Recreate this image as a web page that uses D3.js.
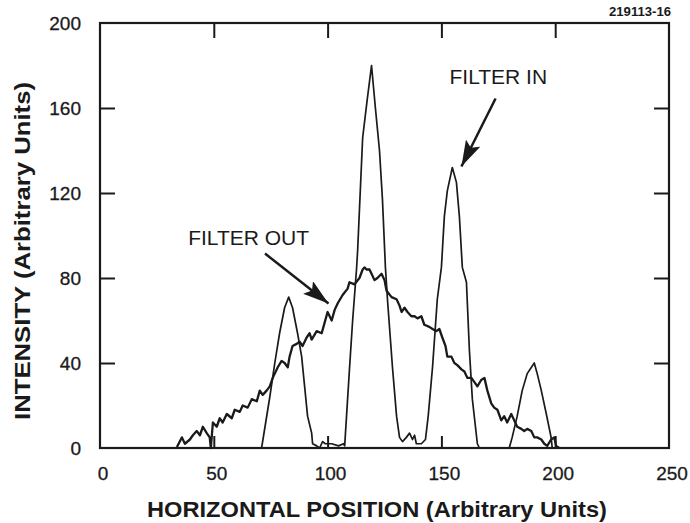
<!DOCTYPE html>
<html>
<head>
<meta charset="utf-8">
<script src="https://cdn.jsdelivr.net/npm/d3@7"></script>
<style>
  html, body { margin: 0; padding: 0; background: #fff; }
  svg { display: block; }
  text { font-family: "Liberation Sans", Arial, Helvetica, sans-serif; fill: #1a1a1a; }
</style>
</head>
<body>
<svg id="chart" width="690" height="523"></svg>
<script>
// ---- data ----
const xTicks = [0, 50, 100, 150, 200, 250];
const yTicks = [0, 40, 80, 120, 160, 200];
const xTitle = "HORIZONTAL POSITION (Arbitrary Units)";
const yTitle = "INTENSITY (Arbitrary Units)";
const figureId = "219113-16";

const filterInPos = [60, 71, 74.6, 76.8, 78.9, 81.1, 82.9, 84.6, 86.8, 88.6, 89.9, 91.2, 93.0, 93.4, 95.2, 96.5, 97.8, 99, 101.8, 104.8, 107.0, 107.5,
  109.6, 111.0, 112.7, 113.2, 115.4, 117.3, 119.3, 121, 122.8, 124.1, 125.4, 126.3, 128.5, 130.3, 131.6, 132.9, 134.6, 136, 137.3, 138.2, 139, 141.2, 143,
  144.2, 146.1, 148.2, 150.0, 151.3, 152.6, 154.8, 156.6, 157.9, 159.2, 161.0, 162.3, 163.6, 165.8, 166.7, 179.8,
  181.1, 183.3, 185.5, 187.7, 190.8, 192.1, 193.9, 196.1, 198.2, 198.7, 205];
const filterInVal = [0, 0, 24, 40, 54, 66, 71, 66, 54, 43, 29, 15, 7, 2, 1, 0, 3, 2, 2, 1, 2, 1,
  37, 60, 84, 93, 146, 163, 180, 160, 140, 117, 85, 70, 38, 15, 5, 3, 5, 7, 4, 6, 2, 2, 4,
  15, 38, 70, 85, 109, 121, 132, 125, 109, 85, 78, 46, 23, 2, 0, 0,
  5, 15, 27, 35, 40, 35, 27, 16, 5, 0, 0];

const filterOutPos = [33.8, 36.0, 37.3, 39.5, 40.8, 42.5, 43.9, 45.2, 46.9, 48.2, 48.7, 49.6, 51.3, 52.6, 53.9, 55.7, 57.9, 59.2, 61.4, 62.7, 64.9,
  66.7, 68.9, 70.2, 71.5, 73.2, 74.6, 75.9, 78.1, 79.8, 81.1, 82.5, 83.3, 84.6, 86.4, 87.7, 89.0, 90.8, 92.1, 93.0, 95.2, 97.4, 98.7,
  100.0, 101.8, 103.1, 104.4, 106.6, 108.8, 109.6, 111.8, 114.0, 115.4, 116.2, 117.1, 118.4, 119.3, 120.6, 121.9, 123.7, 125.0, 125.9,
  128.1, 130.3, 131.6, 132.5, 133.8, 135.1, 136.8, 138.2, 139.5, 141.2, 142.5, 144.7, 146.1, 147.8, 149.1, 150.4, 151.8, 152.6, 154.4,
  155.7, 157.0, 158.8, 160.1, 161.4, 163.2, 164.5, 165.8, 167.5, 168.9, 170.2, 171.9, 173.2, 174.6, 176.3, 177.6, 178.9, 180.7, 182.0,
  183.3, 185.1, 186.4, 187.7, 189.5, 190.8, 192.1, 193.9, 195.2, 196.5, 198.2, 199.6, 200.4, 201.8];
const filterOutVal = [0.5, 5, 2, 4, 6, 8, 6, 10, 7, 5, 0, 12, 10, 14, 12, 16, 14, 18, 17, 20, 19,
  23, 22, 27, 25, 27, 29, 33, 38, 41, 40, 38, 43, 48, 49, 50, 48, 52, 54, 51, 55, 54, 59,
  64, 60, 65, 68, 72, 75, 78, 77, 80, 84, 85, 84, 84, 82, 79, 80, 82, 79, 74,
  71, 70, 67, 64, 66, 64, 62, 62, 61, 62, 58, 57, 56, 55, 56, 52, 48, 43, 43,
  40, 39, 37, 36, 33, 33, 31, 29, 32, 33, 27, 21, 19, 18, 13, 15, 12, 16, 13,
  10, 9, 8, 9, 8, 5, 5, 4, 2, 1, 4, 5, 1, 0];

const annotations = [
  { label: "FILTER IN", tx: 175, ty: 171.5, x1: 173.8, y1: 164.5, x2: 158.8, y2: 132.5 },
  { label: "FILTER OUT", tx: 65.3, ty: 95.5, x1: 72.5, y1: 91.5, x2: 100.4, y2: 68.0 }
];

// ---- layout ----
const svg = d3.select("#chart");
const pL = 100, pR = 669, pT = 23, pB = 448;
const x = d3.scaleLinear().domain([0, 250]).range([pL, pR]);
const y = d3.scaleLinear().domain([0, 200]).range([pB, pT]);
const ink = "#1a1a1a";

// ticks (inward)
const innerX = v => v > 0 && v < 250;
const innerY = v => v > 0 && v < 200;
const tickLen = 15;
svg.append("g").attr("transform", `translate(${pL},0)`)
  .call(d3.axisLeft(y).tickValues(yTicks.filter(innerY)).tickSize(-tickLen).tickFormat(""))
  .call(g => g.select(".domain").remove());
svg.append("g").attr("transform", `translate(${pR},0)`)
  .call(d3.axisRight(y).tickValues(yTicks.filter(innerY)).tickSize(-tickLen).tickFormat(""))
  .call(g => g.select(".domain").remove());
svg.append("g").attr("transform", `translate(0,${pT})`)
  .call(d3.axisTop(x).tickValues(xTicks.filter(innerX)).tickSize(-tickLen).tickFormat(""))
  .call(g => g.select(".domain").remove());
svg.append("g").attr("transform", `translate(0,${pB})`)
  .call(d3.axisBottom(x).tickValues(xTicks.filter(innerX)).tickSize(-12).tickFormat(""))
  .call(g => g.select(".domain").remove());
svg.selectAll(".tick line").attr("stroke", ink).attr("stroke-width", 2);

// tick labels
svg.append("g").selectAll("text").data(yTicks).join("text")
  .attr("x", pL - 19).attr("y", d => y(d) + 7)
  .attr("text-anchor", "end").attr("font-size", 19).attr("stroke", ink).attr("stroke-width", 0.3).text(d => d);
svg.append("g").selectAll("text").data(xTicks).join("text")
  .attr("x", d => x(d) + 3).attr("y", pB + 32)
  .attr("text-anchor", "middle").attr("font-size", 19).attr("stroke", ink).attr("stroke-width", 0.3).text(d => d);

// titles
svg.append("text").attr("x", 377).attr("y", 517).attr("text-anchor", "middle")
  .attr("font-size", 22).attr("font-weight", "bold")
  .attr("textLength", 460).attr("lengthAdjust", "spacingAndGlyphs").text(xTitle);
svg.append("text").attr("transform", `translate(30,251) rotate(-90)`).attr("text-anchor", "middle")
  .attr("font-size", 22).attr("font-weight", "bold")
  .attr("textLength", 338).attr("lengthAdjust", "spacingAndGlyphs").text(yTitle);
svg.append("text").attr("x", 671).attr("y", 16).attr("text-anchor", "end")
  .attr("font-size", 12).attr("font-weight", "bold")
  .attr("textLength", 62).attr("lengthAdjust", "spacingAndGlyphs").text(figureId);

// curves
const line = d3.line().x(d => x(d[0])).y(d => y(d[1]));
const inData = filterInPos.map((p, i) => [p, filterInVal[i]]);
const outData = filterOutPos.map((p, i) => [p, filterOutVal[i]]);
svg.append("path").datum(outData).attr("d", line).attr("fill", "none")
  .attr("stroke", ink).attr("stroke-width", 2.3).attr("stroke-linejoin", "round");
svg.append("path").datum(inData).attr("d", line).attr("fill", "none")
  .attr("stroke", ink).attr("stroke-width", 1.7).attr("stroke-linejoin", "round");

// frame
svg.append("rect").attr("x", pL).attr("y", pT).attr("width", pR - pL).attr("height", pB - pT)
  .attr("fill", "none").attr("stroke", ink).attr("stroke-width", 2.2);

// annotations
svg.append("defs").append("marker").attr("id", "head")
  .attr("viewBox", "0 0 26 16").attr("refX", 26).attr("refY", 8)
  .attr("markerWidth", 26).attr("markerHeight", 16).attr("markerUnits", "userSpaceOnUse")
  .attr("orient", "auto")
  .append("path").attr("d", "M0,0 L26,8 L0,16 L5,8 Z").attr("fill", ink);
const ann = svg.append("g").selectAll("g").data(annotations).join("g");
ann.append("text").attr("x", d => x(d.tx)).attr("y", d => y(d.ty)).attr("text-anchor", "middle")
  .attr("font-size", 21).text(d => d.label);
ann.append("line").attr("x1", d => x(d.x1)).attr("y1", d => y(d.y1))
  .attr("x2", d => x(d.x2)).attr("y2", d => y(d.y2))
  .attr("stroke", ink).attr("stroke-width", 2.5).attr("marker-end", "url(#head)");
</script>
</body>
</html>
